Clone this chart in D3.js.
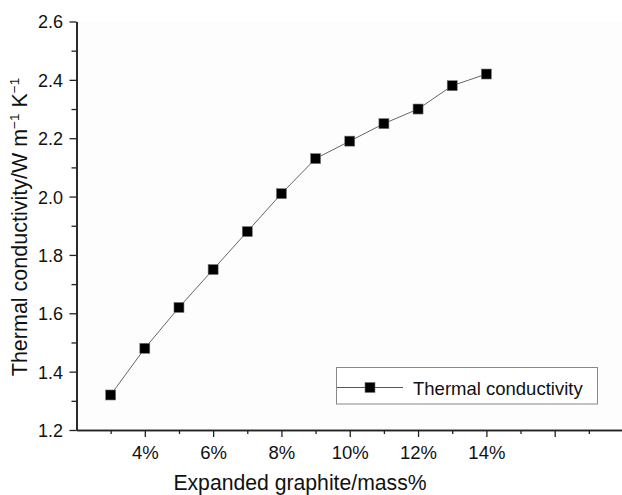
<!DOCTYPE html>
<html>
<head>
<meta charset="utf-8">
<script src="https://cdn.jsdelivr.net/npm/d3@7"></script>
<style>
  html, body { margin: 0; padding: 0; background: #fff; }
  svg { display: block; font-family: "Liberation Sans", Arial, Helvetica, sans-serif; }
</style>
</head>
<body>
<svg id="chart" width="622" height="495"></svg>
<script>
// Expanded graphite content (mass %) and measured thermal conductivity (W m^-1 K^-1)
const graphiteContent = [3, 4, 5, 6, 7, 8, 9, 10, 11, 12, 13, 14];
const conductivity = [1.32, 1.48, 1.62, 1.75, 1.88, 2.01, 2.13, 2.19, 2.25, 2.30, 2.38, 2.42];

const xMajorTicks = [4, 6, 8, 10, 12, 14, 16];
const xLabelledTicks = [4, 6, 8, 10, 12, 14];
const xMinorTicks = [3, 5, 7, 9, 11, 13, 15, 17];
const yMajorTicks = [1.2, 1.4, 1.6, 1.8, 2.0, 2.2, 2.4, 2.6];
const yMinorTicks = [1.3, 1.5, 1.7, 1.9, 2.1, 2.3, 2.5];

const seriesName = "Thermal conductivity";
const xTitle = "Expanded graphite/mass%";

const fontStack = "Liberation Sans, Arial, sans-serif";
const svg = d3.select("#chart");
const plotLeft = 76.5, plotRight = 623, plotTop = 21.5, plotBottom = 430;

const x = d3.scaleLinear().domain([2, 18]).range([plotLeft, plotRight]);
const y = d3.scaleLinear().domain([1.2, 2.6]).range([plotBottom, plotTop]);

// plot area
svg.append("rect")
  .attr("x", plotLeft).attr("y", plotTop)
  .attr("width", plotRight - plotLeft).attr("height", plotBottom - plotTop)
  .attr("fill", "#fdfdfd");

// x axis: major ticks with labels, minor ticks without
const xAxis = svg.append("g").attr("transform", `translate(0,${plotBottom})`);
xAxis.append("g")
  .call(d3.axisBottom(x).tickValues(xMajorTicks).tickSize(7).tickSizeOuter(0)
    .tickFormat(d => xLabelledTicks.includes(d) ? d + "%" : ""));
xAxis.append("g")
  .call(d3.axisBottom(x).tickValues(xMinorTicks).tickSize(4).tickSizeOuter(0).tickFormat(""));
xAxis.selectAll(".domain").attr("stroke", "#222").attr("stroke-width", 1.6);
xAxis.selectAll(".tick line").attr("stroke", "#222").attr("stroke-width", 1.3);
xAxis.selectAll(".tick text").attr("font-size", 18.5).attr("fill", "#111")
  .attr("font-family", fontStack).attr("y", 28.5).attr("dy", 0);

// y axis
const yAxis = svg.append("g").attr("transform", `translate(${plotLeft},0)`);
yAxis.append("g")
  .call(d3.axisLeft(y).tickValues(yMajorTicks).tickSize(7).tickSizeOuter(0)
    .tickFormat(d3.format(".1f")));
yAxis.append("g")
  .call(d3.axisLeft(y).tickValues(yMinorTicks).tickSize(5).tickSizeOuter(0).tickFormat(""));
yAxis.selectAll(".domain").attr("stroke", "#222").attr("stroke-width", 1.6);
yAxis.selectAll(".tick line").attr("stroke", "#222").attr("stroke-width", 1.3);
yAxis.selectAll(".tick text").attr("font-size", 18).attr("fill", "#111")
  .attr("font-family", fontStack).attr("x", -13.5).attr("dy", "0.36em");

// axis titles
svg.append("text")
  .attr("x", 300).attr("y", 490)
  .attr("text-anchor", "middle")
  .attr("font-size", 21.2).attr("fill", "#111")
  .text(xTitle);

const yTitle = svg.append("text")
  .attr("transform", "translate(27,227) rotate(-90)")
  .attr("text-anchor", "middle")
  .attr("font-size", 21.5).attr("fill", "#111");
yTitle.append("tspan").text("Thermal conductivity/W m");
yTitle.append("tspan").attr("dy", -8).attr("font-size", 13.5).text("\u22121");
yTitle.append("tspan").attr("dy", 8).text(" K");
yTitle.append("tspan").attr("dy", -8).attr("font-size", 13.5).text("\u22121");

// data line and markers
const line = d3.line()
  .x((d, i) => x(graphiteContent[i]))
  .y(d => y(d));

svg.append("path")
  .datum(conductivity)
  .attr("d", line)
  .attr("fill", "none")
  .attr("stroke", "#666")
  .attr("stroke-width", 1);

const ms = 10;
svg.append("g").selectAll("rect")
  .data(conductivity)
  .join("rect")
  .attr("x", (d, i) => x(graphiteContent[i]) - ms / 2)
  .attr("y", d => y(d) - ms / 2)
  .attr("width", ms).attr("height", ms)
  .attr("fill", "#000")
  .attr("stroke", "#777")
  .attr("stroke-width", 0.6);

// legend
const legend = svg.append("g");
legend.append("rect")
  .attr("x", 336.5).attr("y", 367.5)
  .attr("width", 261).attr("height", 36.5)
  .attr("fill", "#fff").attr("stroke", "#888").attr("stroke-width", 1);
legend.append("line")
  .attr("x1", 337).attr("x2", 403).attr("y1", 387.5).attr("y2", 387.5)
  .attr("stroke", "#555").attr("stroke-width", 1);
legend.append("rect")
  .attr("x", 370 - ms / 2).attr("y", 387.5 - ms / 2)
  .attr("width", ms).attr("height", ms)
  .attr("fill", "#000").attr("stroke", "#777").attr("stroke-width", 0.6);
legend.append("text")
  .attr("x", 413).attr("y", 394.5)
  .attr("font-size", 18.5).attr("fill", "#111")
  .text(seriesName);
</script>
</body>
</html>
